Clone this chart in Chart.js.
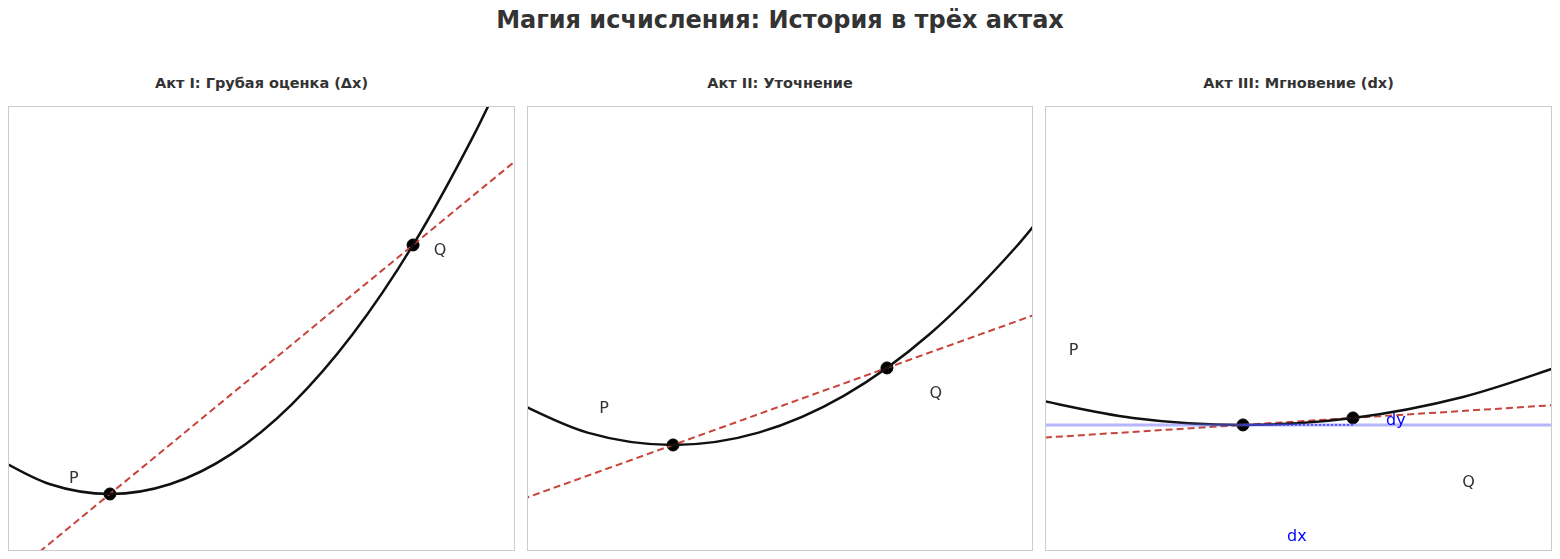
<!DOCTYPE html>
<html>
<head>
<meta charset="utf-8">
<script src="https://cdn.jsdelivr.net/npm/chart.js@4"></script>
<style>
  body { margin: 0; background: #fff; font-family: "DejaVu Sans", sans-serif; }
  #wrap { position: relative; width: 1560px; height: 559px; }
  .title { position: absolute; left: 0; width: 1560px; top: 6px; text-align: center; font-size: 24px; font-weight: bold; color: #333; }
  .sub { position: absolute; top: 75px; text-align: center; font-size: 14.5px; font-weight: bold; color: #333; }
  .panel { position: absolute; top: 107px; height: 443px; outline: 1px solid #ccc; }
</style>
</head>
<body>
<div id="wrap">
  <div class="title">Магия исчисления: История в трёх актах</div>
  <div class="sub" style="left:9px;width:505px">Акт I: Грубая оценка (Δx)</div>
  <div class="sub" style="left:528px;width:504px">Акт II: Уточнение</div>
  <div class="sub" style="left:1046px;width:505px">Акт III: Мгновение (dx)</div>
  <div class="panel" style="left:9px;width:505px"><canvas id="act1"></canvas></div>
  <div class="panel" style="left:528px;width:504px"><canvas id="act2"></canvas></div>
  <div class="panel" style="left:1046px;width:505px"><canvas id="act3"></canvas></div>
</div>
<script>
// curve samples y = x^2
const curve1X = [-0.4, -0.2, 0, 0.2, 0.4, 0.6, 0.8, 1.0, 1.2, 1.3];
const curve1Y = [0.16, 0.04, 0, 0.04, 0.16, 0.36, 0.64, 1.0, 1.44, 1.69];
const curve2X = [-0.4, -0.2, 0, 0.2, 0.4, 0.6, 0.8, 0.9];
const curve2Y = [0.16, 0.04, 0, 0.04, 0.16, 0.36, 0.64, 0.81];
const curve3X = [-0.2, -0.1, 0, 0.1, 0.2, 0.3];
const curve3Y = [0.04, 0.01, 0, 0.01, 0.04, 0.09];

// secant lines through P and Q
const secant1 = [[-0.4, -0.4], [1.4, 1.4]];
const secant2 = [[-0.4, -0.2], [0.9, 0.45]];
const secant3 = [[-0.2, -0.02], [0.3, 0.03]];

// P and Q points
const points1 = [[0, 0], [1, 1]];
const points2 = [[0, 0], [0.5, 0.25]];
const points3 = [[0, 0], [0.1, 0.01]];

// axis ranges
const range1 = { x: [-0.333, 1.333], y: [-0.225, 1.554] };
const range2 = { x: [-0.339, 0.839], y: [-0.341, 1.097] };
const range3 = { x: [-0.179, 0.28], y: [-0.1786, 0.454] };

// text labels [text, x, y, colour]
const labels1 = [["P", -0.119, 0.06, "#333"], ["Q", 1.089, 0.976, "#333"]];
const labels2 = [["P", -0.161, 0.117, "#333"], ["Q", 0.614, 0.166, "#333"]];
const labels3 = [["P", -0.154, 0.106, "#333"], ["Q", 0.205, -0.083, "#333"],
                 ["dy", 0.139, 0.006, "blue"], ["dx", 0.049, -0.16, "blue"]];

const textPlugin = {
  id: "texts",
  afterDatasetsDraw(chart) {
    const ctx = chart.ctx;
    const items = chart.options.plugins.texts.items;
    ctx.save();
    ctx.font = "16px 'DejaVu Sans'";
    ctx.textAlign = "center";
    ctx.textBaseline = "middle";
    items.forEach(([t, x, y, c]) => {
      ctx.fillStyle = c;
      ctx.fillText(t, chart.scales.x.getPixelForValue(x), chart.scales.y.getPixelForValue(y));
    });
    ctx.restore();
  }
};

function xy(xs, ys) { return xs.map((x, i) => ({ x: x, y: ys[i] })); }
function pts(a) { return a.map(p => ({ x: p[0], y: p[1] })); }

function makeChart(id, cx, cy, sec, pq, range, texts, extra) {
  const datasets = [
    ...(extra || []),
    { data: xy(cx, cy), borderColor: "#111", borderWidth: 2.5, pointRadius: 0, tension: 0.4, cubicInterpolationMode: "monotone" },
    { data: pts(sec), borderColor: "#c8433a", borderWidth: 2, borderDash: [7, 4], pointRadius: 0 },
    { data: pts(pq), showLine: false, pointRadius: 6, pointBackgroundColor: "#000", pointBorderColor: "#000" },
  ];
  new Chart(document.getElementById(id), {
    type: "line",
    data: { datasets: datasets },
    options: {
      responsive: true,
      maintainAspectRatio: false,
      animation: false,
      layout: { padding: 0, autoPadding: false },
      scales: {
        x: { type: "linear", min: range.x[0], max: range.x[1], display: false },
        y: { type: "linear", min: range.y[0], max: range.y[1], display: false },
      },
      plugins: { legend: { display: false }, tooltip: { enabled: false }, texts: { items: texts } },
    },
    plugins: [textPlugin],
  });
}

makeChart("act1", curve1X, curve1Y, secant1, points1, range1, labels1);
makeChart("act2", curve2X, curve2Y, secant2, points2, range2, labels2);
makeChart("act3", curve3X, curve3Y, secant3, points3, range3, labels3, [
  { data: pts([[-0.2, 0], [0.3, 0]]), borderColor: "rgba(110,110,255,0.5)", borderWidth: 3, pointRadius: 0 },
  { data: pts([[0, 0], [0.1, 0]]), borderColor: "blue", borderWidth: 1.5, borderDash: [2, 2], pointRadius: 0 },
]);
</script>
</body>
</html>
